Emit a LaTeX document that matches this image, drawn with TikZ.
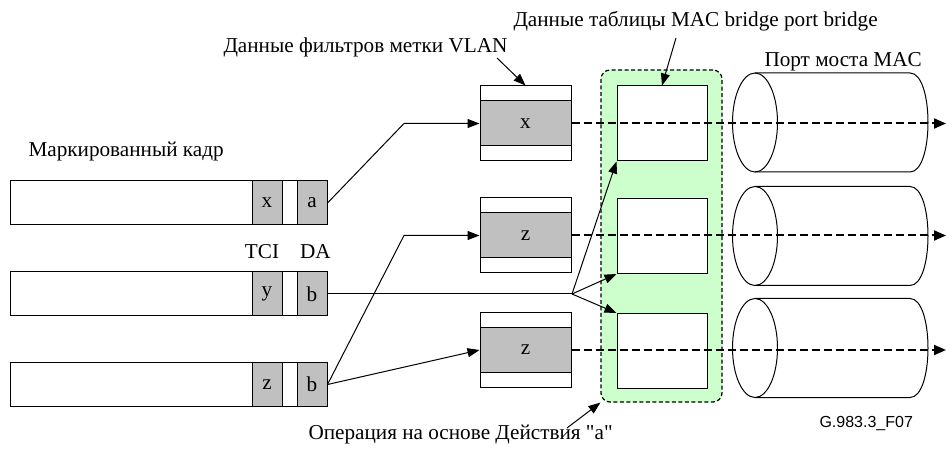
\documentclass[tikz,border=0pt]{standalone}
\usepackage{fontspec}
\setmainfont{Liberation Serif}
\newfontfamily\figsans{Liberation Sans}
\newfontfamily\plainserif{Liberation Serif}[Ligatures=TeXOff]
\usetikzlibrary{arrows.meta}
\definecolor{cellGray}{HTML}{C0C0C0}
\definecolor{grpGreen}{HTML}{CCFFCC}

\begin{document}
\begin{tikzpicture}[
            x=1pt, y=-1pt,
            font=\fontsize{21.2}{25}\selectfont,
            every node/.style={line width=1pt},
            frameBox/.style={draw, rectangle, inner sep=0pt, minimum width=317pt, minimum height=44pt},
            cellBox/.style={draw, rectangle, inner sep=0pt, fill=cellGray, minimum width=30pt, minimum height=44pt},
            fltBox/.style={draw, rectangle, inner sep=0pt, minimum width=91pt, minimum height=75pt},
            fltCell/.style={draw, rectangle, inner sep=0pt, fill=cellGray, minimum width=91pt, minimum height=45pt},
            tblBox/.style={draw, rectangle, inner sep=0pt, fill=white, minimum width=90pt, minimum height=75pt},
            lbl/.style={anchor=base west, inner sep=0pt},
            link/.style={line width=1pt, -{Triangle[length=12pt, width=9pt]}},
            flow/.style={line width=2pt, dash pattern=on 8pt off 4pt, -{Triangle[length=12pt, width=10pt]}}
        ]
        \useasboundingbox (0,0) rectangle (946,457);

        % MAC bridge port table
        \node [draw, line width=1.2pt, dash pattern=on 4pt off 2.5pt, fill=grpGreen, rounded corners=9pt,
               minimum width=121pt, minimum height=332pt] (grp) at (661.5,236) {};
        \node [tblBox] (t1) at (662,123.5) {};
        \node [tblBox] (t2) at (662,236) {};
        \node [tblBox] (t3) at (662,351) {};

        % tagged frames
        \node [frameBox] (fr1) at (168.5,203) {};
        \node [cellBox] (fr1t) at (267,203) {x};
        \node [cellBox] (fr1d) at (312,203) {a};
        \node [frameBox] (fr2) at (168.5,294) {};
        \node [cellBox] (fr2t) at (267,294) {y};
        \node [cellBox] (fr2d) at (312,294) {b};
        \node [frameBox] (fr3) at (168.5,384.5) {};
        \node [cellBox] (fr3t) at (267,384.5) {z};
        \node [cellBox] (fr3d) at (312,384.5) {b};

        % VLAN filters
        \node [fltBox] (flt1) at (525.5,123.5) {};
        \node [fltCell] (g1) at (525.5,123.5) {x};
        \node [fltBox] (flt2) at (525.5,235.5) {};
        \node [fltCell] (g2) at (525.5,235.5) {z};
        \node [fltBox] (flt3) at (525.5,350) {};
        \node [fltCell] (g3) at (525.5,350) {z};

        % bridge ports
        \foreach \cy in {122.5, 236, 348} {
            \draw [line width=1pt] (755,\cy) ellipse [x radius=22.5, y radius=49.5];
            \draw [line width=1pt] (755,\cy-49.5) -- (910,\cy-49.5)
                .. controls (934,\cy-49.5) and (934,\cy+49.5) .. (910,\cy+49.5) -- (755,\cy+49.5);
        }

        \coordinate (k1) at (404,123.5);
        \coordinate (k3) at (404,235.5);
        \coordinate (hub) at (572,294);
        \coordinate (o1) at (946,123.5);
        \coordinate (o2) at (946,235.5);
        \coordinate (o3) at (946,350);

        \draw [link] (fr1d.east) -- (k1) -- (g1.west);
        \draw [link] (fr3d.east) -- (k3) -- (g2.west);
        \draw [link] (fr3d.east) -- (g3.west);
        \draw [line width=1pt] (fr2d.east) -- (hub);
        \draw [link] (hub) -- (t1.south west);
        \draw [link] (hub) -- (t2.south west);
        \draw [link] (hub) -- (t3.north west);

        \draw [flow] (g1.east) -- (o1);
        \draw [flow] (g2.east) -- (o2);
        \draw [flow] (g3.east) -- (o3);

        % labels
        \node [lbl] (lFrame) at (28,157) {Маркированный кадр};
        \node [anchor=base, inner sep=0pt] (lTci) at (262,258.7) {TCI};
        \node [anchor=base, inner sep=0pt] (lDa) at (315.5,258.7) {DA};
        \node [lbl] (lVlan) at (223,53) {Данные фильтров метки VLAN};
        \node [lbl] (lTbl) at (513,27) {Данные таблицы MAC bridge port bridge};
        \node [lbl] (lPort) at (764,67) {Порт моста MAC};
        \node [lbl, font=\plainserif\fontsize{21.2}{25}\selectfont] (lOp) at (308,439) {Операция на основе Действия "a"};
        \node [lbl, font=\figsans\fontsize{16}{19}\selectfont] (lFig) at (819,427) {G.983.3\_F07};

        \coordinate (vlanTail) at (497,58);
        \coordinate (tblTail) at (676,38);
        \coordinate (opTail) at (567,428);
        \draw [link] (vlanTail) -- (flt1.north);
        \draw [link] (tblTail) -- (t1.north);
        \draw [link] (opTail) -- (grp.south west);

    \end{tikzpicture}
\end{document}
